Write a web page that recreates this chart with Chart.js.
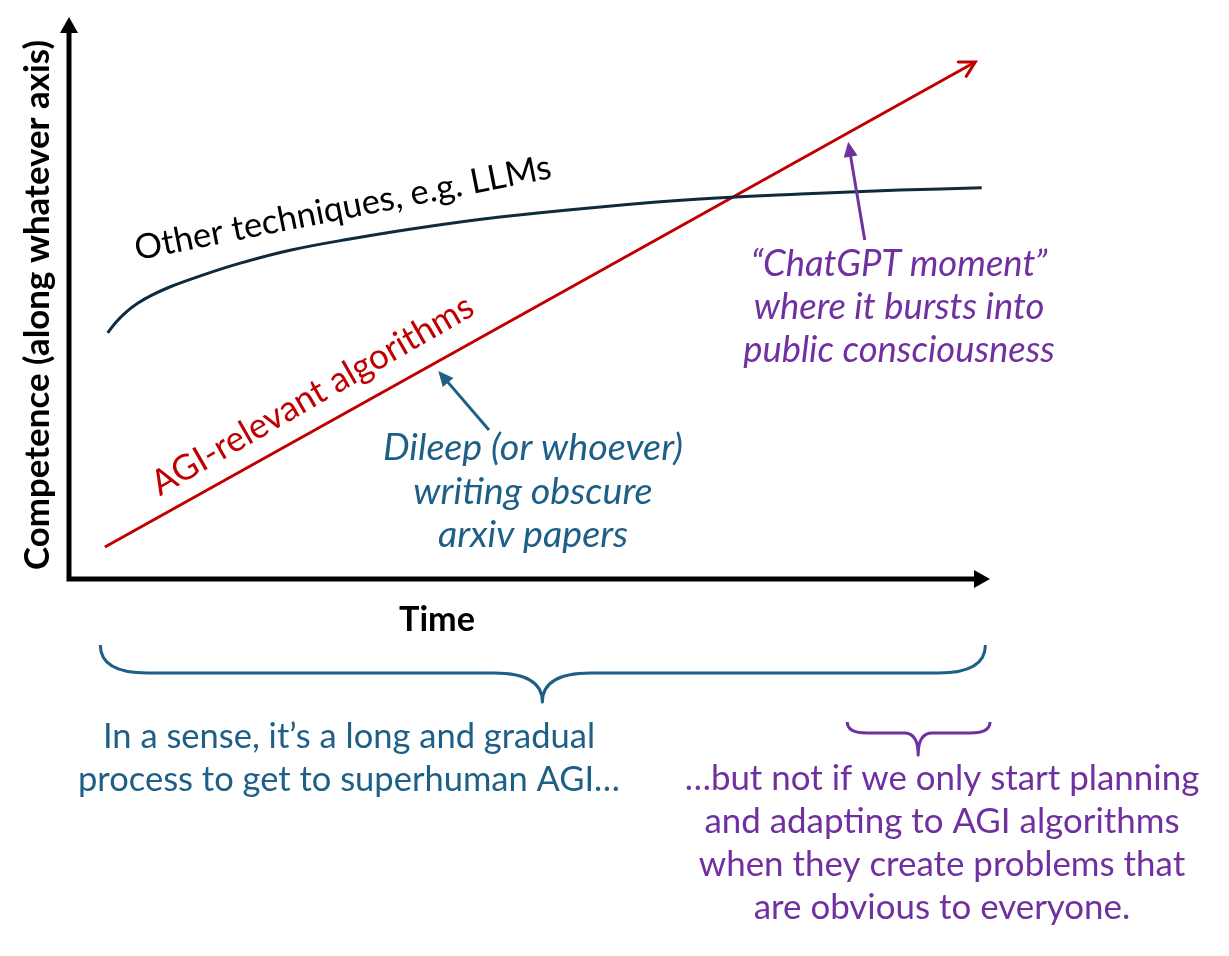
<!DOCTYPE html>
<html>
<head>
<meta charset="utf-8">
<script src="https://cdn.jsdelivr.net/npm/chart.js@4.4.0/dist/chart.umd.min.js"></script>
<style>
html, body { margin: 0; padding: 0; background: #fff; }
#wrap { position: relative; width: 1229px; height: 956px; }
</style>
</head>
<body>
<div id="wrap"><canvas id="diagram"></canvas></div>
<script>
// DATA (time 0-100 along the x axis, competence 0-100 up the y axis)
const otherTime = [4.2, 5.1, 6.2, 7.5, 9.0, 11.0, 14.2, 18.6, 24.0, 30.5, 38.1, 46.8, 57.7, 68.5, 79.4, 90.2, 99.1];
const otherCompetence = [43.8, 45.7, 47.5, 49.1, 50.5, 52.0, 53.9, 56.2, 58.5, 60.5, 62.5, 64.4, 66.2, 67.6, 68.5, 69.2, 69.6];
const agiTime = [3.9, 98.4];
const agiCompetence = [5.7, 92.0];

// annotation arrows (tail, tip)
const dileepArrowTime = [45.6, 40.1];
const dileepArrowCompetence = [26.5, 37.0];
const chatArrowTime = [86.4, 84.6];
const chatArrowCompetence = [60.3, 77.8];

// braces under the time axis (start, tip, end)
const longBraceTime = [3.4, 51.4, 99.5];
const shortBraceTime = [84.5, 92.2, 100];

// texts
const yTitle = 'Competence (along whatever axis)';
const xTitle = 'Time';
const otherLabel = 'Other techniques, e.g. LLMs';
const agiLabel = 'AGI-relevant algorithms';
const dileepLines = ['Dileep (or whoever)', 'writing obscure', 'arxiv papers'];
const chatLines = ['\u201CChatGPT moment\u201D', 'where it bursts into', 'public consciousness'];
const longLines = ['In a sense, it\u2019s a long and gradual', 'process to get to superhuman AGI\u2026'];
const shortLines = ['\u2026but not if we only start planning', 'and adapting to AGI algorithms', 'when they create problems that', 'are obvious to everyone.'];

const FONT = 'Lato, "Noto Sans", sans-serif';
const BLUE = '#1d5f86';
const PURPLE = '#7030a0';
const RED = '#c00000';
const NAVY = '#0e2a3c';

const toPoints = (xs, ys) => xs.map((x, i) => ({x: x, y: ys[i]}));

// pick a font size so the widest line gets the wanted width
const fitFont = (ctx, lines, style, width) => {
    ctx.font = style + ' 100px ' + FONT;
    let w = Math.max(...lines.map(l => ctx.measureText(l).width));
    let size = 100 * width / w;
    return style + ' ' + size.toFixed(1) + 'px ' + FONT;
};

const drawLines = (ctx, lines, style, width, color, cx, baselines) => {
    ctx.save();
    ctx.font = fitFont(ctx, lines, style, width);
    ctx.fillStyle = color;
    ctx.textAlign = 'center';
    ctx.textBaseline = 'alphabetic';
    lines.forEach((l, i) => ctx.fillText(l, cx, baselines[i]));
    ctx.restore();
};

const filledHead = (ctx, x0, y0, x1, y1, len, half, color) => {
    let a = Math.atan2(y1 - y0, x1 - x0);
    ctx.beginPath();
    ctx.moveTo(x1, y1);
    ctx.lineTo(x1 - len * Math.cos(a) + half * Math.sin(a), y1 - len * Math.sin(a) - half * Math.cos(a));
    ctx.lineTo(x1 - len * Math.cos(a) - half * Math.sin(a), y1 - len * Math.sin(a) + half * Math.cos(a));
    ctx.closePath();
    ctx.fillStyle = color;
    ctx.fill();
};

const brace = (ctx, xs, yTop, yBar, yTip, r, r2, color) => {
    let [x0, xm, x1] = xs;
    ctx.beginPath();
    ctx.moveTo(x0, yTop);
    ctx.quadraticCurveTo(x0, yBar, x0 + r, yBar);
    ctx.lineTo(xm - r2, yBar);
    ctx.quadraticCurveTo(xm, yBar, xm, yTip);
    ctx.quadraticCurveTo(xm, yBar, xm + r2, yBar);
    ctx.lineTo(x1 - r, yBar);
    ctx.quadraticCurveTo(x1, yBar, x1, yTop);
    ctx.strokeStyle = color;
    ctx.lineWidth = 3;
    ctx.lineJoin = 'round';
    ctx.stroke();
};

// DRAWS AXES, ARROWS, BRACES AND ALL THE TEXT
const diagramPlugin = {
    id: 'diagram',
    afterDatasetsDraw(chart) {
        const ctx = chart.ctx;
        const area = chart.chartArea;
        const xs = chart.scales.x, ys = chart.scales.y;
        ctx.save();

        // axes with arrow heads
        ctx.strokeStyle = '#000';
        ctx.lineWidth = 5;
        ctx.beginPath();
        ctx.moveTo(area.left, area.top + 12);
        ctx.lineTo(area.left, area.bottom);
        ctx.lineTo(area.right - 12, area.bottom);
        ctx.stroke();
        filledHead(ctx, area.left, area.bottom, area.left, area.top, 16, 9, '#000');
        filledHead(ctx, area.left, area.bottom, area.right, area.bottom, 16, 9, '#000');

        // open arrow head at the end of the red line
        const pts = chart.getDatasetMeta(1).data;
        const p0 = pts[pts.length - 2], p1 = pts[pts.length - 1];
        let a = Math.atan2(p1.y - p0.y, p1.x - p0.x);
        ctx.strokeStyle = RED;
        ctx.lineWidth = 3;
        ctx.lineCap = 'round';
        ctx.beginPath();
        ctx.moveTo(p1.x - 17 * Math.cos(a - 0.5), p1.y - 17 * Math.sin(a - 0.5));
        ctx.lineTo(p1.x, p1.y);
        ctx.lineTo(p1.x - 17 * Math.cos(a + 0.5), p1.y - 17 * Math.sin(a + 0.5));
        ctx.stroke();

        // annotation arrows
        [[dileepArrowTime, dileepArrowCompetence, BLUE], [chatArrowTime, chatArrowCompetence, PURPLE]].forEach(([t, c, col]) => {
            let x0 = xs.getPixelForValue(t[0]), y0 = ys.getPixelForValue(c[0]);
            let x1 = xs.getPixelForValue(t[1]), y1 = ys.getPixelForValue(c[1]);
            let aa = Math.atan2(y1 - y0, x1 - x0);
            ctx.strokeStyle = col;
            ctx.lineWidth = 3;
            ctx.lineCap = 'butt';
            ctx.beginPath();
            ctx.moveTo(x0, y0);
            ctx.lineTo(x1 - 10 * Math.cos(aa), y1 - 10 * Math.sin(aa));
            ctx.stroke();
            filledHead(ctx, x0, y0, x1, y1, 15, 7, col);
        });

        // braces
        brace(ctx, longBraceTime.map(v => xs.getPixelForValue(v)), 645, 673, 702, 47, 48, BLUE);
        brace(ctx, shortBraceTime.map(v => xs.getPixelForValue(v)), 722, 733, 755, 20, 14, PURPLE);

        // axis titles
        ctx.save();
        ctx.translate(38, 305);
        ctx.rotate(-Math.PI / 2);
        ctx.font = fitFont(ctx, [yTitle], 'bold', 530);
        ctx.fillStyle = '#000';
        ctx.textAlign = 'center';
        ctx.textBaseline = 'middle';
        ctx.fillText(yTitle, 0, 0);
        ctx.restore();
        drawLines(ctx, [xTitle], 'bold', 76, '#000', 437, [631]);

        // series labels along the lines
        ctx.save();
        ctx.translate(345, 219);
        ctx.rotate(-11.2 * Math.PI / 180);
        ctx.font = fitFont(ctx, [otherLabel], 'normal', 424);
        ctx.fillStyle = '#000';
        ctx.textAlign = 'center';
        ctx.fillText(otherLabel, 0, 0);
        ctx.restore();

        ctx.save();
        ctx.translate(318, 405);
        ctx.rotate(-30 * Math.PI / 180);
        ctx.font = fitFont(ctx, [agiLabel], 'normal', 366);
        ctx.fillStyle = RED;
        ctx.textAlign = 'center';
        ctx.fillText(agiLabel, 0, 0);
        ctx.restore();

        // annotations
        drawLines(ctx, dileepLines, 'italic', 300, BLUE, 533, [460, 504, 547]);
        drawLines(ctx, chatLines, 'italic', 312, PURPLE, 899, [276, 319, 362]);
        drawLines(ctx, longLines, 'normal', 542, BLUE, 349, [748, 791]);
        drawLines(ctx, shortLines, 'normal', 515, PURPLE, 942, [790, 833, 876, 919]);

        ctx.restore();
    }
};

const buildDiagram = () => {
    const canvas = document.getElementById('diagram');
    canvas.width = 1229;
    canvas.height = 956;
    const chart = new Chart(canvas.getContext('2d'), {
        type: 'scatter',
        data: {
            datasets: [{
                label: otherLabel,
                data: toPoints(otherTime, otherCompetence),
                showLine: true,
                borderColor: NAVY,
                borderWidth: 3,
                pointRadius: 0,
                tension: 0.4
            }, {
                label: agiLabel,
                data: toPoints(agiTime, agiCompetence),
                showLine: true,
                borderColor: RED,
                borderWidth: 3,
                pointRadius: 0
            }]
        },
        options: {
            responsive: false,
            animation: false,
            layout: { padding: { left: 69, right: 239, top: 17, bottom: 377 } },
            scales: {
                x: { type: 'linear', min: 0, max: 100, display: false },
                y: { type: 'linear', min: 0, max: 100, display: false }
            },
            plugins: {
                legend: { display: false },
                tooltip: { enabled: false }
            }
        },
        plugins: [diagramPlugin]
    });
};

buildDiagram();
</script>
</body>
</html>
